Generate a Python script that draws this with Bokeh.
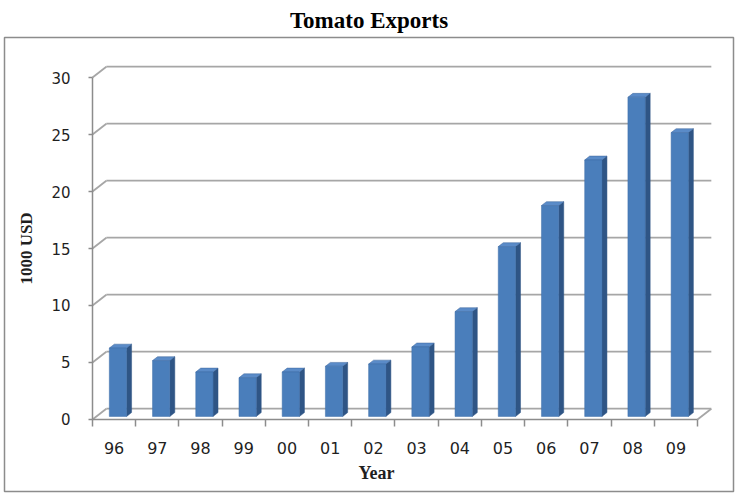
import numpy as np
from bokeh.plotting import figure
from bokeh.models import Range1d, LinearAxis, FixedTicker
from bokeh.core.properties import value
from bokeh.embed import file_html
from bokeh.resources import INLINE

# ---- data ----
years = ["96", "97", "98", "99", "00", "01", "02", "03", "04", "05", "06", "07", "08", "09"]
exports = [6.0, 4.9, 3.9, 3.4, 3.9, 4.4, 4.6, 6.1, 9.2, 14.9, 18.5, 22.5, 28.0, 24.9]
y_ticks = [0, 5, 10, 15, 20, 25, 30]
x_title = "Year"
y_title = "1000 USD"

n = len(years)
xc = np.arange(n, dtype=float)          # category centres
xb = np.arange(n + 1) - 0.5              # category boundaries
vals = np.array(exports, dtype=float)

# 3-D look (in data units)
DX, DY = 0.32, 0.95      # depth of the back wall
BW = 0.40                # bar width
DF, DD = 0.28, 0.36      # bar front position / bar depth as fraction of wall depth

p = figure(width=736, height=493,
           x_range=Range1d(-2.536, 14.333), y_range=Range1d(-6.316, 33.509),
           x_axis_type=None, y_axis_type=None,
           toolbar_location=None, output_backend="svg",
           min_border_left=4, min_border_right=3, min_border_top=37, min_border_bottom=2)
p.background_fill_color = "white"
p.border_fill_color = "white"
p.outline_line_color = "#8c8c8c"
p.outline_line_width = 1.5

p.title.text = "Tomato Exports"
p.title.align = "center"
p.title.text_font = "Liberation Serif"
p.title.text_font_style = "bold"
p.title.text_font_size = "23px"
p.title.text_color = "#000000"

GRID = "#a6a6a6"
x0 = xb[0]
x1 = xb[-1]
yt = np.array(y_ticks, dtype=float)
# diagonal stubs from axis to back wall
p.segment(x0=[x0] * len(yt), y0=yt, x1=[x0 + DX] * len(yt), y1=yt + DY,
          line_color=GRID, line_width=1.8)
# back-wall gridlines
p.segment(x0=[x0 + DX] * len(yt), y0=yt + DY, x1=[x1 + DX] * len(yt), y1=yt + DY,
          line_color=GRID, line_width=1.8)
# right floor edge
p.segment(x0=[x1], y0=[0], x1=[x1 + DX], y1=[DY], line_color=GRID, line_width=1.8)

# bars
fx = DF * DX
fy = DF * DY
ddx = DD * DX
ddy = DD * DY
left = xc - BW / 2 + fx
right = xc + BW / 2 + fx
base = np.full(n, fy)
top = vals + fy

side_xs = [[r, r + ddx, r + ddx, r] for r in right]
side_ys = [[fy, fy + ddy, t + ddy, t] for t in top]
top_xs = [[l, r, r + ddx, l + ddx] for l, r in zip(left, right)]
top_ys = [[t, t, t + ddy, t + ddy] for t in top]

p.patches(side_xs, side_ys, fill_color="#2f5585", line_color="#2f5585", line_width=0.5)
p.patches(top_xs, top_ys, fill_color="#5a8bc8", line_color="#3d659a", line_width=0.5)
p.quad(left=left, right=right, bottom=base, top=top,
       fill_color="#4a7ebb", line_color="#3f6fa8", line_width=0.5)

# axes
AX = "#8c8c8c"
TXT = "#1f1f1f"
xaxis = LinearAxis(fixed_location=0, bounds=(float(x0), float(x1)),
                   ticker=FixedTicker(ticks=list(range(n)), minor_ticks=list(xb)),
                   major_label_overrides={i: y for i, y in enumerate(years)})
xaxis.axis_line_color = AX
xaxis.axis_line_width = 1.5
xaxis.major_tick_out = 0
xaxis.major_tick_in = 0
xaxis.minor_tick_out = 7
xaxis.minor_tick_in = 0
xaxis.minor_tick_line_color = AX
xaxis.minor_tick_line_width = 1.5
xaxis.major_label_standoff = 16
xaxis.major_label_text_font = "DejaVu Sans"
xaxis.major_label_text_font_size = "16px"
xaxis.major_label_text_color = TXT
p.add_layout(xaxis, "below")

# x-axis title (placed left of centre as in the original)
p.text(x=[6.07], y=[-4.69], text=[x_title], text_font=value("Liberation Serif"),
       text_font_style="bold", text_font_size="18px", text_color=TXT,
       text_align="center", text_baseline="middle")

yaxis = LinearAxis(fixed_location=float(x0), bounds=(0, 30),
                   ticker=FixedTicker(ticks=y_ticks, minor_ticks=[]))
yaxis.axis_line_color = AX
yaxis.axis_line_width = 1.5
yaxis.major_tick_out = 4
yaxis.major_tick_in = 0
yaxis.major_tick_line_color = AX
yaxis.major_tick_line_width = 1.5
yaxis.minor_tick_line_color = None
yaxis.major_label_standoff = 18
yaxis.major_label_text_font = "DejaVu Sans"
yaxis.major_label_text_font_size = "15px"
yaxis.major_label_text_color = TXT
yaxis.axis_label = y_title
yaxis.axis_label_text_font = "Liberation Serif"
yaxis.axis_label_text_font_style = "bold"
yaxis.axis_label_text_font_size = "17px"
yaxis.axis_label_text_color = TXT
yaxis.axis_label_standoff = 12
p.add_layout(yaxis, "left")

open("out.html", "w").write(file_html(p, INLINE))
